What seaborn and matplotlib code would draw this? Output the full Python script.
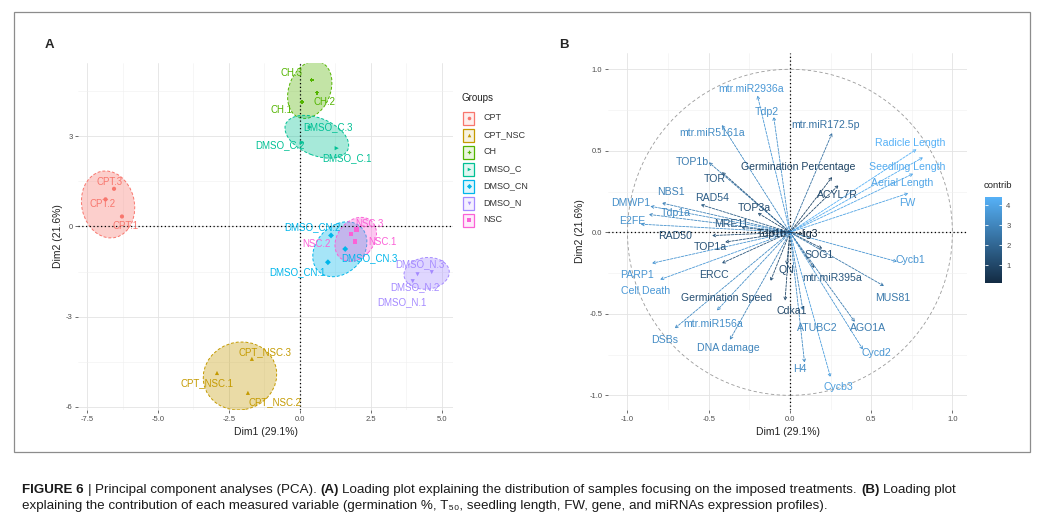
import numpy as np
import pandas as pd
import matplotlib
matplotlib.use("Agg")
import matplotlib.pyplot as plt
import seaborn as sns
from matplotlib.patches import Ellipse, Rectangle, Circle
from matplotlib.colors import LinearSegmentedColormap, Normalize, to_rgba
from matplotlib.cm import ScalarMappable

# ---------------- Panel A: individuals ----------------
groups = ["CPT", "CPT_NSC", "CH", "DMSO_C", "DMSO_CN", "DMSO_N", "NSC"]
group_colors = ["#F8766D", "#C49A00", "#53B400", "#00C094", "#00B6EB", "#A58AFF", "#FB61D7"]
group_markers = ["o", "^", "P", ">", "D", "v", "s"]

sample_names = ["CPT.1", "CPT.2", "CPT.3",
                "CPT_NSC.1", "CPT_NSC.2", "CPT_NSC.3",
                "CH.1", "CH.2", "CH.3",
                "DMSO_C.1", "DMSO_C.2", "DMSO_C.3",
                "DMSO_CN.1", "DMSO_CN.2", "DMSO_CN.3",
                "DMSO_N.1", "DMSO_N.2", "DMSO_N.3",
                "NSC.1", "NSC.2", "NSC.3"]
sample_group = ["CPT", "CPT", "CPT",
                "CPT_NSC", "CPT_NSC", "CPT_NSC",
                "CH", "CH", "CH",
                "DMSO_C", "DMSO_C", "DMSO_C",
                "DMSO_CN", "DMSO_CN", "DMSO_CN",
                "DMSO_N", "DMSO_N", "DMSO_N",
                "NSC", "NSC", "NSC"]
dim1 = [-6.27, -6.85, -6.55, -2.92, -1.83, -1.69, 0.07, 0.60, 0.42,
        1.30, 0.07, 0.35, 0.99, 1.10, 1.60, 3.98, 4.65, 4.15, 1.95, 1.80, 2.00]
dim2 = [0.33, 0.90, 1.25, -4.87, -5.53, -4.40, 4.14, 4.44, 4.87,
        2.60, 2.78, 3.30, -1.19, -0.30, -0.75, -1.82, -1.52, -1.59, -0.50, -0.25, -0.10]
label_dim1 = [-6.16, -6.94, -6.69, -3.27, -0.88, -1.23, -0.63, 0.88, -0.28,
              1.65, -0.70, 0.99, -0.07, 0.46, 2.46, 3.59, 4.05, 4.22, 2.92, 0.60, 2.46]
label_dim2 = [0.03, 0.73, 1.49, -5.20, -5.83, -4.17, 3.87, 4.14, 5.10,
              2.28, 2.70, 3.31, -1.52, -0.03, -1.06, -2.52, -2.02, -1.26, -0.53, -0.60, 0.07]

# concentration ellipses per group (centre, axes, orientation)
ellipse_dim1 = [-6.76, -2.11, 0.35, 0.60, 1.41, 4.47, 1.97]
ellipse_dim2 = [0.73, -4.97, 4.54, 2.98, -0.76, -1.56, -0.43]
ellipse_major = [2.25, 2.60, 2.00, 2.35, 2.10, 1.60, 1.65]
ellipse_minor = [1.85, 2.25, 1.45, 1.25, 1.60, 1.05, 1.25]
ellipse_angle = [-75, 10, 65, -20, 40, 5, 45]

a_xticks = [-7.5, -5.0, -2.5, 0.0, 2.5, 5.0]
a_yticks = [3, 0, -3, -6]

# ---------------- Panel B: variables ----------------
var_names = ["mtr.miR2936a", "Tdp2", "mtr.miR172.5p", "mtr.miR5161a", "TOP1b", "TOR",
             "Germination Percentage", "ACYL7R", "Radicle Length", "Seedling Length",
             "Aerial Length", "FW", "NBS1", "DMWP1", "Tdp1a", "E2FE", "RAD54", "TOP3a",
             "MRE11", "RAD50", "TOP1a", "PARP1", "Cell Death", "ERCC", "Germination Speed",
             "mtr.miR156a", "DSBs", "DNA damage", "Cycb1", "SOG1", "MUS81", "mtr.miR395a",
             "QN", "Cdka1", "ATUBC2", "AGO1A", "Cycd2", "H4", "Cycb3", "lig3", "Tdp1b"]
var_dim1 = [-0.20, -0.10, 0.26, -0.42, -0.50, -0.42,
            0.26, 0.30, 0.78, 0.82,
            0.76, 0.73, -0.79, -0.86, -0.87, -0.92, -0.55, -0.20,
            -0.30, -0.48, -0.40, -0.85, -0.80, -0.42, -0.12,
            -0.45, -0.71, -0.37, 0.66, 0.20, 0.58, 0.15,
            -0.02, -0.03, 0.08, 0.40, 0.45, 0.09, 0.25, 0.08, -0.12]
var_dim2 = [0.84, 0.71, 0.61, 0.66, 0.43, 0.37,
            0.34, 0.29, 0.51, 0.46,
            0.36, 0.24, 0.18, 0.16, 0.11, 0.05, 0.17, 0.12,
            0.03, -0.02, -0.06, -0.19, -0.29, -0.19, -0.30,
            -0.48, -0.59, -0.66, -0.18, -0.10, -0.33, -0.22,
            -0.20, -0.42, -0.48, -0.55, -0.72, -0.80, -0.89, -0.01, 0.00]
var_contrib = [3.6, 3.4, 2.4, 3.2, 2.7, 1.5,
               0.9, 1.1, 4.4, 4.2,
               4.0, 3.9, 2.9, 3.3, 3.1, 3.4, 1.7, 1.2,
               1.5, 1.2, 1.3, 3.5, 3.6, 1.4, 1.2,
               3.3, 3.2, 3.0, 3.5, 1.3, 2.6, 1.5,
               1.2, 1.0, 3.0, 2.7, 3.5, 3.2, 3.8, 0.1, 0.4]
var_label_dim1 = [-0.24, -0.14, 0.22, -0.48, -0.60, -0.46,
                  0.05, 0.29, 0.74, 0.72,
                  0.69, 0.72, -0.73, -0.98, -0.70, -0.97, -0.48, -0.22,
                  -0.36, -0.71, -0.49, -0.94, -0.89, -0.47, -0.39,
                  -0.47, -0.77, -0.38, 0.74, 0.18, 0.63, 0.26,
                  -0.02, 0.01, 0.17, 0.48, 0.53, 0.06, 0.30, 0.12, -0.11]
var_label_dim2 = [0.88, 0.74, 0.66, 0.61, 0.43, 0.33,
                  0.40, 0.23, 0.55, 0.40,
                  0.30, 0.18, 0.25, 0.18, 0.12, 0.07, 0.21, 0.15,
                  0.05, -0.02, -0.09, -0.26, -0.36, -0.26, -0.40,
                  -0.56, -0.66, -0.71, -0.17, -0.14, -0.40, -0.28,
                  -0.23, -0.48, -0.59, -0.59, -0.74, -0.84, -0.95, -0.01, -0.01]
b_ticks = [-1.0, -0.5, 0.0, 0.5, 1.0]
contrib_ticks = [1, 2, 3, 4]

caption_line1 = [("FIGURE 6", "bold"), ("|", "normal"),
                 ("Principal component analyses (PCA).", "normal"), ("(A)", "bold"),
                 ("Loading plot explaining the distribution of samples focusing on the imposed treatments.", "normal"),
                 ("(B)", "bold"), ("Loading plot", "normal")]
caption_line2 = [("explaining the contribution of each measured variable (germination %, T\u2085\u2080, seedling length, FW, gene, and miRNAs expression profiles).", "normal")]

# ---------------- style ----------------
sns.set_theme(style="white")
plt.rcParams["font.family"] = ["Liberation Sans", "DejaVu Sans"]

W, H = 1040, 516
fig = plt.figure(figsize=(W / 100, H / 100), dpi=100)
fig.patch.set_facecolor("white")


def px_rect(l, t, r, b):
    return [l / W, 1 - b / H, (r - l) / W, (b - t) / H]


def style_axes(ax, xmaj, ymaj, xmin, ymin):
    ax.set_xticks(xmaj)
    ax.set_yticks(ymaj)
    ax.set_xticks(xmin, minor=True)
    ax.set_yticks(ymin, minor=True)
    ax.grid(which="major", color="#E3E3E3", lw=0.6)
    ax.grid(which="minor", color="#EFEFEF", lw=0.4)
    ax.set_axisbelow(True)
    for s in ax.spines.values():
        s.set_visible(False)
    ax.tick_params(which="major", length=2, width=0.5, color="#333333",
                   labelsize=5.5, labelcolor="#4D4D4D", pad=2,
                   bottom=True, left=True)
    ax.tick_params(which="minor", length=0)


# ---------------- Panel A ----------------
axA = fig.add_axes(px_rect(78, 63, 453, 410))
axA.set_xlim(-7.82, 5.4)
axA.set_ylim(-6.1, 5.43)
style_axes(axA, a_xticks, a_yticks, [-6.25, -3.75, -1.25, 1.25, 3.75], [-4.5, -1.5, 1.5, 4.5])
axA.set_xticklabels(["-7.5", "-5.0", "-2.5", "0.0", "2.5", "5.0"])
axA.set_yticklabels(["3", "0", "-3", "-6"])

for i, g in enumerate(groups):
    col = group_colors[i]
    e = Ellipse((ellipse_dim1[i], ellipse_dim2[i]), width=ellipse_major[i],
                height=ellipse_minor[i], angle=ellipse_angle[i],
                facecolor=to_rgba(col, 0.35), edgecolor=col, lw=0.7,
                linestyle=(0, (3, 2)), zorder=2)
    axA.add_patch(e)

axA.axhline(0, color="black", lw=0.9, ls=(0, (1, 2)), zorder=3)
axA.axvline(0, color="black", lw=0.9, ls=(0, (1, 2)), zorder=3)

dfA = pd.DataFrame({"Dim1": dim1, "Dim2": dim2, "Groups": sample_group, "name": sample_names})
sns.scatterplot(data=dfA, x="Dim1", y="Dim2", hue="Groups", style="Groups",
                hue_order=groups, style_order=groups,
                palette=dict(zip(groups, group_colors)),
                markers=dict(zip(groups, group_markers)),
                s=9, linewidth=0, legend=False, ax=axA, zorder=4)
cmapA = dict(zip(groups, group_colors))
for n, g, lx, ly in zip(sample_names, sample_group, label_dim1, label_dim2):
    axA.text(lx, ly, n, color=cmapA[g], fontsize=7, ha="center", va="center", zorder=5)

axA.set_xlabel("Dim1 (29.1%)", fontsize=7.5, color="#222222", labelpad=3)
axA.set_ylabel("Dim2 (21.6%)", fontsize=7.5, color="#222222", labelpad=2)

# ---------------- Panel B ----------------
axB = fig.add_axes(px_rect(608, 53, 967, 410))
axB.set_xlim(-1.12, 1.09)
axB.set_ylim(-1.09, 1.10)
style_axes(axB, b_ticks, b_ticks, [-0.75, -0.25, 0.25, 0.75], [-0.75, -0.25, 0.25, 0.75])
axB.set_xticklabels(["-1.0", "-0.5", "0.0", "0.5", "1.0"])
axB.set_yticklabels(["-1.0", "-0.5", "0.0", "0.5", "1.0"])
axB.add_patch(Circle((0, 0), 1.0, fill=False, edgecolor="#9A9A9A", lw=0.6,
                     linestyle=(0, (4, 3)), zorder=2))
axB.axhline(0, color="black", lw=0.9, ls=(0, (1, 2)), zorder=3)
axB.axvline(0, color="black", lw=0.9, ls=(0, (1, 2)), zorder=3)

cmapB = LinearSegmentedColormap.from_list("gg", ["#132B43", "#56B1F7"])
normB = Normalize(vmin=min(var_contrib), vmax=max(var_contrib))
for n, x, y, c, lx, ly in zip(var_names, var_dim1, var_dim2, var_contrib,
                              var_label_dim1, var_label_dim2):
    col = cmapB(normB(c))
    axB.annotate("", xy=(x, y), xytext=(0, 0),
                 arrowprops=dict(arrowstyle="->", color=col, lw=0.6,
                                 linestyle=(0, (3, 1.5)), shrinkA=0, shrinkB=0,
                                 mutation_scale=5), zorder=4)
    axB.text(lx, ly, n, color=col, fontsize=7.6, ha="center", va="center", zorder=5)

axB.set_xlabel("Dim1 (29.1%)", fontsize=7.5, color="#222222", labelpad=3)
axB.set_ylabel("Dim2 (21.6%)", fontsize=7.5, color="#222222", labelpad=3)

# colour bar
cax = fig.add_axes(px_rect(985, 197, 1002, 283))
sm = ScalarMappable(norm=normB, cmap=cmapB)
cb = fig.colorbar(sm, cax=cax, ticks=contrib_ticks)
cb.outline.set_visible(False)
cax.tick_params(length=0, labelsize=5.5, labelcolor="#4D4D4D", pad=3)
for t in contrib_ticks:
    cax.hlines(t, 0.0, 0.2, color="white", lw=0.6)
    cax.hlines(t, 0.8, 1.0, color="white", lw=0.6)

# ---------------- overlay (pixel coordinates) ----------------
ov = fig.add_axes([0, 0, 1, 1], zorder=10)
ov.set_xlim(0, W)
ov.set_ylim(H, 0)
ov.axis("off")

# frame
ov.add_patch(Rectangle((14, 12), 1016, 440, fill=False, edgecolor="#8C8C8C", lw=0.9))

# panel tags
ov.text(49, 45, "A", fontsize=9.5, fontweight="bold", ha="center", va="center")
ov.text(564, 45, "B", fontsize=9.5, fontweight="bold", ha="center", va="center")

# legend for panel A
ov.text(462, 98, "Groups", fontsize=7, color="#222222", ha="left", va="center")
leg_y0, leg_dy = 118, 17
for i, g in enumerate(groups):
    y = leg_y0 + i * leg_dy
    col = group_colors[i]
    ov.add_patch(Rectangle((463, y - 6.5), 11, 13, facecolor=to_rgba(col, 0.12),
                           edgecolor=col, lw=0.9))
    ov.plot([468.5], [y], marker=group_markers[i], color=col, markersize=2.6, mew=0)
    ov.text(483, y, g, fontsize=6.5, color="#333333", ha="left", va="center")

ov.text(984, 186, "contrib", fontsize=6.8, color="#222222", ha="left", va="center")

# caption
cap_family = ["Liberation Sans Narrow", "Liberation Sans", "DejaVu Sans"]
renderer = fig.canvas.get_renderer()


def text_w(s, weight, size):
    t = ov.text(0, 0, s, fontsize=size, fontweight=weight, family=cap_family)
    w = t.get_window_extent(renderer).width
    t.remove()
    return w


def line_width(runs, size):
    sp = text_w("a a", "normal", size) - text_w("aa", "normal", size)
    return sum(text_w(s, wt, size) for s, wt in runs) + sp * (len(runs) - 1)


def draw_runs(runs, x0, y, size):
    sp = text_w("a a", "normal", size) - text_w("aa", "normal", size)
    x = x0
    for s, wt in runs:
        t = ov.text(x, y, s, fontsize=size, fontweight=wt, family=cap_family,
                    ha="left", va="center", color="#1A1A1A")
        x += t.get_window_extent(renderer).width + sp


base = 7.0
cap_size = 0.95 * base * 990.0 / line_width(caption_line1, base)
draw_runs(caption_line1, 22, 490, cap_size)
draw_runs(caption_line2, 22, 506, cap_size)

fig.savefig("out.png", dpi=100, facecolor="white")
